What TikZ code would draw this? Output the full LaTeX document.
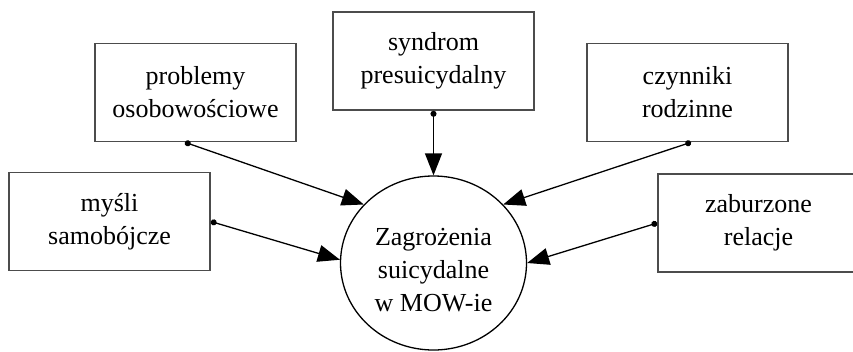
\documentclass[tikz,border=0pt]{standalone}
\usepackage{fontspec}
\setmainfont{Liberation Serif}
\usetikzlibrary{arrows.meta,shapes.geometric,positioning}
\tikzstyle{factor} = [draw=black!70, line width=1.6pt, rectangle, minimum width=201pt, minimum height=98pt, align=center, inner sep=0pt]
\tikzstyle{core} = [draw, ellipse, line width=1.3pt, minimum width=186pt, minimum height=174pt, inner sep=0pt]
\tikzstyle{link} = [line width=1.3pt, {Circle[length=6pt]}-{Triangle[length=22pt,width=17pt]}]

\begin{document}
\begin{tikzpicture}[x=1pt, y=-1pt, font=\fontsize{26}{33}\selectfont]

\useasboundingbox (0,0) rectangle (853,351);

\node [core] (zagr) at (433.5,263) {\raisebox{-9pt}[\height][\depth]{\begin{tabular}{@{}c@{}}Zagrożenia\\ suicydalne\\ w MOW-ie\end{tabular}}};

\node [factor] (probl) at (195.5,92.5) {problemy\\ osobowościowe};
\node [factor] (syndr) at (433.5,61) {syndrom\\ presuicydalny};
\node [factor] (czynn) at (687.5,92.5) {czynniki\\ rodzinne};
\node [factor] (mysli) at (109.5,221.5) {myśli\\ samobójcze};
\node [factor] (zabur) at (758.5,223) {zaburzone\\ relacje};

\draw [link] (probl.258) -- (zagr.140);
\draw [link] (syndr.south) -- (zagr.north);
\draw [link] (czynn.274) -- (zagr.40);
\draw [link] (mysli.east) -- (zagr.178);
\draw [link] (zabur.west) -- (zagr.0);

\end{tikzpicture}
\end{document}
